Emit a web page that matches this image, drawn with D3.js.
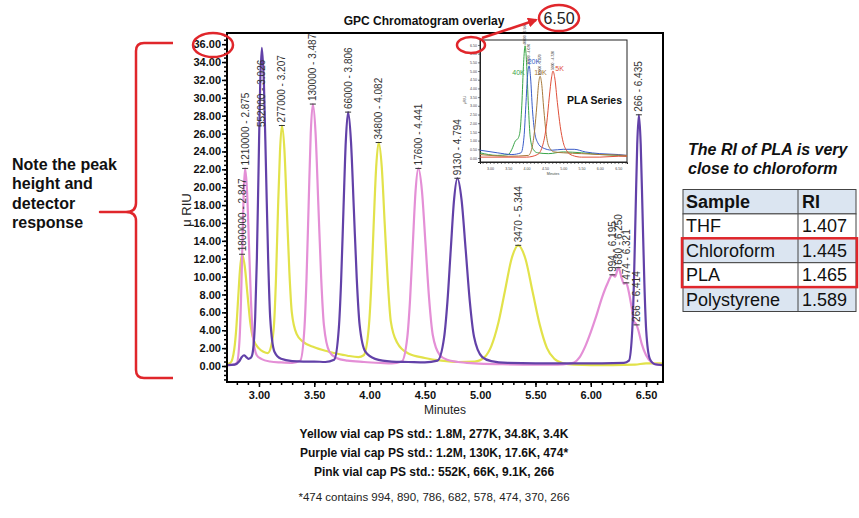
<!DOCTYPE html>
<html>
<head>
<meta charset="utf-8">
<script src="https://cdn.jsdelivr.net/npm/d3@7"></script>
<style>
body { margin:0; background:#fff; }
svg { display:block; font-family:"Liberation Sans", Arial, sans-serif; }
</style>
</head>
<body>
<svg id="chart" width="859" height="518"></svg>
<script>
// main chromatogram traces [minutes, uRIU]
var yellowPts = [[2.70,0.2],[2.742,0.35],[2.777,1.9],[2.795,4.2],[2.812,7.6],[2.83,11.0],[2.847,12.5],[2.872,11.1],[2.897,7.9],[2.922,4.8],[2.947,3.1],[2.997,2.0],[3.04,1.6],[3.08,1.45],[3.11,2.2],[3.137,4.8],[3.154,9.8],[3.172,17.5],[3.19,24.0],[3.207,26.9],[3.23,24.2],[3.252,17.5],[3.275,10.5],[3.297,6.0],[3.34,3.6],[3.40,2.7],[3.50,2.1],[3.60,1.7],[3.70,1.4],[3.80,1.15],[3.90,1.0],[3.947,1.2],[3.992,4.2],[4.015,8.9],[4.037,15.8],[4.06,22.3],[4.082,25.0],[4.11,22.3],[4.137,15.9],[4.165,9.4],[4.192,5.0],[4.25,2.6],[4.35,1.4],[4.50,0.9],[4.65,0.6],[4.80,0.45],[4.95,0.5],[5.04,1.0],[5.10,2.2],[5.164,4.8],[5.224,8.4],[5.284,12.0],[5.344,13.5],[5.409,12.0],[5.474,8.3],[5.539,4.6],[5.604,2.0],[5.67,0.8],[5.75,0.3],[5.85,0.15],[6.00,0.1],[6.20,0.1],[6.40,0.15],[6.50,0.3],[6.60,0.3],[6.653,0.3]];
var pinkPts = [[2.70,0.1],[2.76,0.12],[2.80,0.35],[2.825,3.1],[2.8375,7.3],[2.85,13.5],[2.8625,19.6],[2.875,22.1],[2.8925,19.5],[2.91,13.5],[2.9275,7.4],[2.945,3.4],[2.98,1.2],[3.02,0.8],[3.10,0.5],[3.20,0.4],[3.30,0.35],[3.373,0.6],[3.411,4.2],[3.43,9.8],[3.449,18.0],[3.468,26.0],[3.487,29.3],[3.512,26.0],[3.537,18.0],[3.562,10.0],[3.587,4.6],[3.637,1.6],[3.70,0.9],[3.80,0.6],[3.95,0.45],[4.10,0.35],[4.20,0.3],[4.291,0.5],[4.341,3.2],[4.366,7.4],[4.391,13.6],[4.416,19.6],[4.441,22.1],[4.4735,19.6],[4.506,13.6],[4.5385,7.5],[4.571,3.5],[4.636,1.2],[4.70,0.7],[4.80,0.45],[4.95,0.3],[5.20,0.2],[5.50,0.15],[5.70,0.15],[5.80,0.25],[5.85,0.4],[5.90,1.0],[5.95,2.2],[6.00,3.8],[6.05,5.6],[6.10,7.6],[6.15,9.2],[6.195,10.2],[6.22,10.0],[6.25,11.0],[6.28,9.8],[6.30,9.2],[6.321,9.3],[6.34,8.5],[6.37,6.5],[6.39,5.0],[6.414,4.6],[6.43,4.0],[6.46,2.5],[6.50,1.2],[6.55,0.4],[6.60,0.15],[6.653,0.1]];
var purplePts = [[2.70,0.1],[2.78,0.15],[2.82,0.5],[2.845,1.0],[2.865,1.2],[2.885,1.0],[2.905,0.8],[2.925,0.9],[2.94,1.3],[2.966,5.5],[2.981,12.0],[2.996,21.8],[3.011,31.5],[3.026,35.6],[3.045,31.5],[3.064,21.8],[3.083,12.0],[3.102,5.3],[3.14,1.6],[3.20,0.8],[3.30,0.55],[3.40,0.5],[3.50,0.5],[3.60,0.45],[3.68,0.7],[3.722,4.2],[3.743,9.6],[3.764,17.5],[3.785,25.1],[3.806,28.4],[3.832,25.1],[3.858,17.5],[3.884,9.8],[3.91,4.6],[3.962,1.6],[4.05,0.8],[4.20,0.5],[4.35,0.45],[4.50,0.4],[4.614,0.6],[4.674,3.2],[4.704,7.2],[4.734,13.0],[4.764,18.6],[4.794,21.0],[4.8315,18.6],[4.869,13.0],[4.9065,7.2],[4.944,3.3],[5.019,1.0],[5.10,0.55],[5.25,0.35],[5.50,0.3],[5.80,0.3],[6.10,0.3],[6.30,0.35],[6.345,0.6],[6.375,4.0],[6.39,9.3],[6.405,17.1],[6.42,24.8],[6.435,28.1],[6.4515,24.8],[6.468,17.1],[6.4845,9.3],[6.501,4.0],[6.534,0.8],[6.58,0.2],[6.653,0.1]];

// peak labels: [minutes, height, text, flip inside peak]
var peakLabels = [
  [2.847,12.5,"1800000 - 2.847",0],[3.207,26.9,"277000 - 3.207",0],[4.082,25.0,"34800 - 4.082",0],[5.344,13.5,"3470 - 5.344",0],
  [2.875,22.1,"1210000 - 2.875",0],[3.487,29.3,"130000 - 3.487",0],[4.441,22.1,"17600 - 4.441",0],
  [6.195,10.2,"994 - 6.195",0],[6.250,11.0,"680 - 6.250",0],[6.321,9.3,"474 - 6.321",0],[6.414,4.6,"266 - 6.414",0],
  [3.026,35.6,"552000 - 3.026",1],[3.806,28.4,"66000 - 3.806",0],[4.794,21.0,"9130 - 4.794",0],[6.435,28.1,"266 - 6.435",0]
];

var yTicks = d3.range(0, 36.01, 2);
var xTicks = [3.00, 3.50, 4.00, 4.50, 5.00, 5.50, 6.00, 6.50];

// PLA inset traces
var greenPts = [[2.73,0.3],[3.2,0.15],[3.5,0.2],[3.6,0.5],[3.7,1.0],[3.76,1.1],[3.82,1.5],[3.87,3.0],[3.92,5.5],[3.96,6.45],[4.0,5.5],[4.05,3.0],[4.1,1.2],[4.18,0.5],[4.3,0.3],[4.6,0.25],[5.0,0.35],[5.5,0.3],[6.0,0.2],[6.5,0.15],[6.74,0.1]];
var bluePts = [[2.73,0.45],[3.2,0.3],[3.6,0.2],[3.85,0.3],[3.93,1.2],[3.98,3.0],[4.03,4.8],[4.07,5.3],[4.11,4.6],[4.16,2.8],[4.22,1.5],[4.3,0.9],[4.43,0.6],[4.7,0.45],[5.0,0.5],[5.3,0.5],[5.6,0.35],[6.0,0.25],[6.5,0.2],[6.74,0.15]];
var brownPts = [[2.73,0.2],[3.5,0.1],[4.05,0.15],[4.15,0.6],[4.22,1.6],[4.28,3.0],[4.33,4.3],[4.37,4.7],[4.41,4.3],[4.47,2.8],[4.53,1.5],[4.6,0.7],[4.75,0.35],[5.0,0.3],[5.5,0.25],[6.0,0.2],[6.74,0.15]];
var redPts = [[2.73,0.05],[4.0,0.05],[4.3,0.2],[4.45,0.8],[4.55,2.0],[4.62,3.5],[4.68,4.6],[4.72,5.0],[4.77,4.6],[4.84,3.2],[4.92,1.8],[5.0,0.9],[5.1,0.4],[5.25,0.15],[5.5,0.05],[6.0,0.05],[6.5,0.1],[6.74,0.1]];
var insetNames = ["40K","20K","10K","5K"];
var insetPeakText = ["40000 - 3.960","20000 - 4.070","10000 - 4.370","5000 - 4.720"];
var insetYTicks = d3.range(0, 6.51, 0.5);
var insetXTicks = [3.00, 3.50, 4.00, 4.50, 5.00, 5.50, 6.00, 6.50];

// RI table
var tableHead = ["Sample", "RI"];
var tableSamples = ["THF", "Chloroform", "PLA", "Polystyrene"];
var tableRI = ["1.407", "1.445", "1.465", "1.589"];

var noteLines = ["Note the peak", "height and", "detector", "response"];
var captionLines = ["The RI of PLA is very", "close to chloroform"];
var footLines = ["Yellow vial cap PS std.: 1.8M, 277K, 34.8K, 3.4K",
                 "Purple vial cap PS std.: 1.2M, 130K, 17.6K, 474*",
                 "Pink vial cap PS std.: 552K, 66K, 9.1K, 266"];
var footNote = "*474 contains 994, 890, 786, 682, 578, 474, 370, 266";

var svg = d3.select("#chart");
var RED = "#e0262b";

var x = d3.scaleLinear().domain([2.711, 6.653]).range([227, 663]);
var y = d3.scaleLinear().domain([-1.79, 37.25]).range([382, 33]);

// axes
var yMinor = svg.append("g").attr("transform","translate(227,0)")
  .call(d3.axisLeft(y).tickValues(d3.range(-1.5, 37.1, 0.5)).tickSize(3).tickFormat(""));
var yAxis = svg.append("g").attr("transform","translate(227,0)")
  .call(d3.axisLeft(y).tickValues(yTicks).tickSize(5).tickPadding(1).tickFormat(d3.format(".2f")));
var xMinor = svg.append("g").attr("transform","translate(0,382)")
  .call(d3.axisBottom(x).tickValues(d3.range(2.8, 6.61, 0.1)).tickSize(3).tickFormat(""));
var xAxis = svg.append("g").attr("transform","translate(0,382)")
  .call(d3.axisBottom(x).tickValues(xTicks).tickSize(5).tickPadding(4).tickFormat(d3.format(".2f")));
[yMinor, yAxis, xMinor, xAxis].forEach(function(g){
  g.select(".domain").remove();
  g.selectAll("line").attr("stroke","#000").attr("stroke-width",1.5);
  g.selectAll("text").attr("fill","#111").attr("font-size",11).attr("font-weight","bold")
    .attr("font-family","Liberation Sans, Arial, sans-serif");
});

svg.append("defs").append("clipPath").attr("id","plotclip")
  .append("rect").attr("x",227).attr("y",33).attr("width",436).attr("height",349);

var line = d3.line().x(function(d){return x(d[0]);}).y(function(d){return y(d[1]);}).curve(d3.curveMonotoneX);
var plot = svg.append("g").attr("clip-path","url(#plotclip)");
[[yellowPts,"#e2e24a"],[pinkPts,"#e48fd6"],[purplePts,"#6241a8"]].forEach(function(s){
  plot.append("path").attr("d", line(s[0])).attr("fill","none").attr("stroke",s[1])
    .attr("stroke-width",2.2).attr("stroke-linejoin","round");
});

// peak labels
peakLabels.forEach(function(p){
  var px = x(p[0]), py = y(p[1]);
  if (!p[3]) {
    svg.append("line").attr("x1",px-3).attr("x2",px+3).attr("y1",py).attr("y2",py)
      .attr("stroke","#333").attr("stroke-width",1);
  }
  svg.append("text").attr("transform","translate("+px+","+(p[3] ? py+12 : py-3)+") rotate(-90)")
    .attr("text-anchor", p[3] ? "end" : "start").attr("dy","0.35em")
    .attr("font-size",10).attr("fill","#333").text(p[2]);
});

// frame
svg.append("rect").attr("x",227).attr("y",33).attr("width",436).attr("height",349)
  .attr("fill","none").attr("stroke","#000").attr("stroke-width",2);

svg.append("text").attr("x",424).attr("y",25).attr("text-anchor","middle")
  .attr("font-size",12).attr("font-weight","bold").attr("fill","#111").text("GPC Chromatogram overlay");
svg.append("text").attr("x",445).attr("y",414).attr("text-anchor","middle")
  .attr("font-size",12).attr("fill","#222").text("Minutes");
svg.append("text").attr("transform","translate(191,210) rotate(-90)").attr("text-anchor","middle")
  .attr("font-size",13).attr("fill","#222").text("μ RIU");

// inset: PLA series
var ix = d3.scaleLinear().domain([2.73, 6.74]).range([480, 627]);
var iy = d3.scaleLinear().domain([-0.23, 6.9]).range([162, 38]);
var inset = svg.append("g");
inset.append("rect").attr("x",480).attr("y",40).attr("width",147).attr("height",122)
  .attr("fill","#fff").attr("stroke","#222").attr("stroke-width",1);
var iyAx = inset.append("g").attr("transform","translate(480,0)")
  .call(d3.axisLeft(iy).tickValues(insetYTicks).tickSize(2).tickPadding(1).tickFormat(d3.format(".2f")));
var ixAx = inset.append("g").attr("transform","translate(0,162)")
  .call(d3.axisBottom(ix).tickValues(d3.range(2.8, 6.71, 0.1)).tickSize(2).tickFormat(function(d){
    return insetXTicks.some(function(t){return Math.abs(t-d)<1e-6;}) ? d3.format(".2f")(d) : "";
  }));
[iyAx, ixAx].forEach(function(g){
  g.select(".domain").attr("stroke","#222");
  g.selectAll("line").attr("stroke","#222").attr("stroke-width",0.6);
  g.selectAll("text").attr("font-size",3.6).attr("fill","#444").attr("font-family","Liberation Sans, Arial, sans-serif");
});
inset.append("text").attr("x",553).attr("y",175).attr("text-anchor","middle").attr("font-size",3.6).attr("fill","#444").text("Minutes");
inset.append("text").attr("transform","translate(466,100) rotate(-90)").attr("text-anchor","middle").attr("font-size",3.6).attr("fill","#444").text("μRIU");

var iline = d3.line().x(function(d){return ix(d[0]);}).y(function(d){return iy(d[1]);}).curve(d3.curveMonotoneX);
var insetSeries = [[greenPts,"#3aa548"],[bluePts,"#3a5cc8"],[brownPts,"#a87a3c"],[redPts,"#e0503a"]];
var insetLabelPos = [[3.78,4.8],[4.20,5.4],[4.38,4.8],[4.90,5.0]];
insetSeries.forEach(function(s,i){
  inset.append("path").attr("d", iline(s[0])).attr("fill","none").attr("stroke",s[1]).attr("stroke-width",1);
  var pk = s[0].reduce(function(a,b){return b[1]>a[1]?b:a;});
  inset.append("text").attr("transform","translate("+ix(pk[0])+","+(iy(pk[1])-1)+") rotate(-90)")
    .attr("dy","0.35em").attr("font-size",3.4).attr("fill","#333").text(insetPeakText[i]);
  inset.append("text").attr("x",ix(insetLabelPos[i][0])).attr("y",iy(insetLabelPos[i][1]))
    .attr("text-anchor","middle").attr("font-size",7).attr("fill",s[1]).text(insetNames[i]);
});
inset.append("text").attr("x",567).attr("y",104).attr("font-size",10.5).attr("font-weight","bold")
  .attr("fill","#111").text("PLA Series");

// red annotations
svg.append("ellipse").attr("cx",213).attr("cy",45).attr("rx",20).attr("ry",12)
  .attr("fill","none").attr("stroke",RED).attr("stroke-width",2.5);
svg.append("ellipse").attr("cx",471).attr("cy",45).attr("rx",14).attr("ry",8)
  .attr("fill","none").attr("stroke",RED).attr("stroke-width",2.5);
svg.append("ellipse").attr("cx",559).attr("cy",18).attr("rx",20).attr("ry",13)
  .attr("fill","none").attr("stroke",RED).attr("stroke-width",2.5);
svg.append("text").attr("x",559).attr("y",24).attr("text-anchor","middle").attr("font-size",16)
  .attr("fill","#222").text("6.50");
svg.append("defs").append("marker").attr("id","arr").attr("viewBox","0 0 10 10").attr("refX",8).attr("refY",5)
  .attr("markerWidth",4).attr("markerHeight",4).attr("orient","auto")
  .append("path").attr("d","M0,0 L10,5 L0,10 z").attr("fill",RED);
svg.append("line").attr("x1",482).attr("y1",38).attr("x2",536).attr("y2",20)
  .attr("stroke",RED).attr("stroke-width",2.5).attr("marker-end","url(#arr)");

// brace
svg.append("path")
  .attr("d","M173,43 L144,43 Q136,43 136,51 L136,203 Q136,212 126,212 L100,212 L126,212 Q136,212 136,221 L136,370 Q136,378 144,378 L173,378")
  .attr("fill","none").attr("stroke",RED).attr("stroke-width",2.5).attr("stroke-linejoin","round");

svg.append("g").selectAll("text").data(noteLines).enter().append("text")
  .attr("x",12).attr("y",function(d,i){return 170 + i*19.4;})
  .attr("font-size",16).attr("font-weight","bold").attr("fill","#111").text(function(d){return d;});

// caption + table
svg.append("g").selectAll("text").data(captionLines).enter().append("text")
  .attr("x",688).attr("y",function(d,i){return 155 + i*19;})
  .attr("font-size",16).attr("font-weight","bold").attr("font-style","italic").attr("fill","#111")
  .text(function(d){return d;});

var rowH = 24.4, tTop = 189.5;
var rows = [tableHead].concat(tableSamples.map(function(s,i){return [s, tableRI[i]];}));
var tbl = svg.append("g");
rows.forEach(function(r,i){
  var fill = (i % 2 == 0) ? "#dbe5f1" : "#fff";
  tbl.append("rect").attr("x",683).attr("y",tTop+i*rowH).attr("width",173).attr("height",rowH)
    .attr("fill",fill).attr("stroke","#444").attr("stroke-width",1);
  tbl.append("line").attr("x1",798).attr("x2",798).attr("y1",tTop+i*rowH).attr("y2",tTop+(i+1)*rowH)
    .attr("stroke","#444").attr("stroke-width",1);
  tbl.append("text").attr("x",686).attr("y",tTop+i*rowH+18.5).attr("font-size",18)
    .attr("font-weight", i==0 ? "bold" : "normal").attr("fill","#111").text(r[0]);
  tbl.append("text").attr("x",802).attr("y",tTop+i*rowH+18.5).attr("font-size",18)
    .attr("font-weight", i==0 ? "bold" : "normal").attr("fill","#111").text(r[1]);
});
tbl.append("rect").attr("x",682).attr("y",tTop+2*rowH).attr("width",175).attr("height",2*rowH)
  .attr("fill","none").attr("stroke",RED).attr("stroke-width",2.5);

// footer
svg.append("g").selectAll("text").data(footLines).enter().append("text")
  .attr("x",434).attr("y",function(d,i){return 438 + i*19;}).attr("text-anchor","middle")
  .attr("font-size",12).attr("font-weight","bold").attr("fill","#111").text(function(d){return d;});
svg.append("text").attr("x",434).attr("y",501).attr("text-anchor","middle")
  .attr("font-size",11.5).attr("fill","#222").text(footNote);
</script>
</body>
</html>
